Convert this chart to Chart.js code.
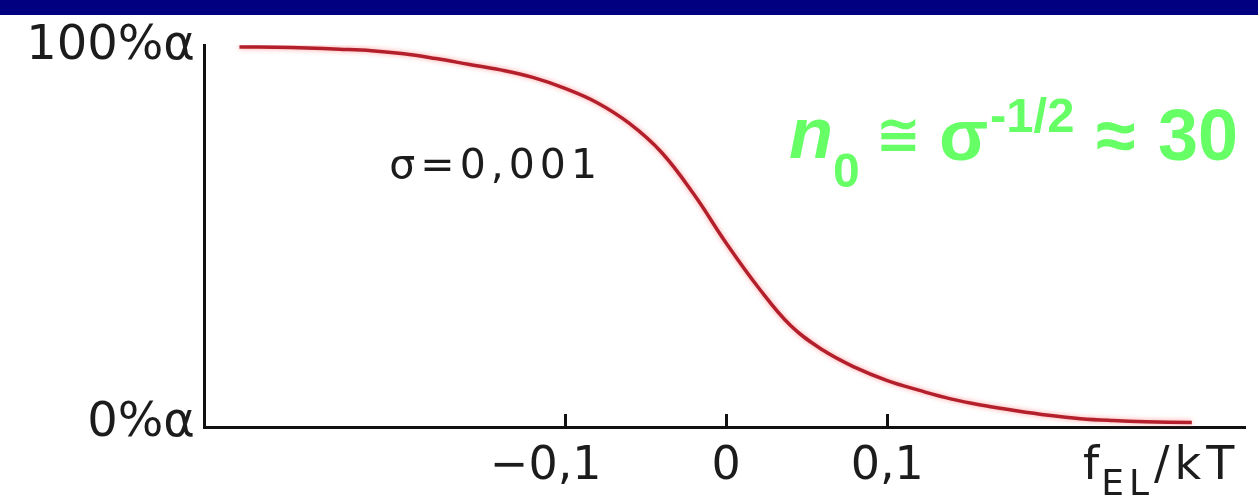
<!DOCTYPE html>
<html><head><meta charset="utf-8">
<script src="https://cdn.jsdelivr.net/npm/chart.js@4.4.1/dist/chart.umd.min.js"></script>
<style>html,body{margin:0;padding:0;background:#fff;overflow:hidden}canvas{display:block}</style>
</head><body>
<canvas id="c" width="1258" height="504"></canvas>
<script>
// ---- data ----
const xValues = [-0.302,-0.28,-0.26,-0.24,-0.22,-0.20,-0.18,-0.16,-0.14,-0.12,-0.10,-0.08,-0.06,-0.04,-0.02,0.00,0.02,0.04,0.06,0.08,0.10,0.12,0.14,0.16,0.18,0.20,0.22,0.24,0.26,0.289];
const alphaPercent = [100,99.9,99.7,99.4,99.0,98.2,96.9,95.4,93.9,91.9,89.0,85.2,79.7,72.0,60.9,48.0,36.2,26.1,19.6,15.0,11.5,8.9,6.6,4.9,3.5,2.3,1.4,0.9,0.6,0.4];
const xTickValues = [-0.1, 0, 0.1];
const xTickLabels = ['\u22120,1', '0', '0,1'];
const yTickValues = [0, 100];
const yTickLabels = ['0%\u03b1', '100%\u03b1'];
const curveLabel = '\u03c3=0,001';
const curveLabelAt = {x: -0.209, y: 68};
const xTitleParts = ['f', 'EL', '/kT'];
const formulaParts = ['n', '0', '\u2245', '\u03c3', '-1/2', '\u2248', '30'];

const TEXT = '#1c1c1c';
const GREEN = '#66ff66';

const overlay = {
  id: 'overlay',
  beforeDraw(chart) {
    const c = chart.ctx;
    c.save();
    c.fillStyle = '#ffffff';
    c.fillRect(0, 0, chart.width, chart.height);
    c.fillStyle = '#000080';
    c.fillRect(0, 0, chart.width, 15);
    c.restore();
  },
  beforeDatasetsDraw(chart) {
    const c = chart.ctx;
    c.save();
    c.shadowColor = 'rgba(255,90,90,0.6)';
    c.shadowBlur = 5;
  },
  afterDatasetsDraw(chart) {
    chart.ctx.restore();
  },
  afterDraw(chart) {
    const c = chart.ctx;
    const xs = chart.scales.x, ys = chart.scales.y;
    const axisY = chart.chartArea.bottom;
    c.save();
    // x tick marks (inside, pointing up)
    c.strokeStyle = '#111';
    c.lineWidth = 3;
    xTickValues.forEach(v => {
      const px = Math.round(xs.getPixelForValue(v)) + 0.5;
      c.beginPath();
      c.moveTo(px, axisY);
      c.lineTo(px, axisY - 13);
      c.stroke();
    });
    // x tick labels
    c.fillStyle = TEXT;
    c.font = '46px "DejaVu Sans"';
    c.textBaseline = 'alphabetic';
    xTickValues.forEach((v, i) => {
      const lab = xTickLabels[i];
      const px = xs.getPixelForValue(v);
      let shift = 0;
      if (lab.startsWith('\u2212')) shift = c.measureText('\u2212').width;
      const w = c.measureText(lab).width;
      c.textAlign = 'left';
      c.fillText(lab, px - (w - shift) / 2 - shift, 479);
    });
    // x axis title f_EL/kT
    c.textAlign = 'left';
    c.letterSpacing = '5px';
    let tx = 1083;
    c.font = '46px "DejaVu Sans"';
    c.fillText(xTitleParts[0], tx, 479);
    tx += c.measureText(xTitleParts[0]).width - 3;
    c.font = '36px "DejaVu Sans"';
    c.fillText(xTitleParts[1], tx, 495);
    tx += c.measureText(xTitleParts[1]).width;
    c.font = '46px "DejaVu Sans"';
    c.fillText(xTitleParts[2], tx, 479);
    // curve label
    c.font = '41px "DejaVu Sans"';
    c.letterSpacing = '5px';
    c.textBaseline = 'middle';
    c.fillText(curveLabel, xs.getPixelForValue(curveLabelAt.x), ys.getPixelForValue(curveLabelAt.y));
    c.letterSpacing = '0px';
    // green formula
    c.fillStyle = GREEN;
    c.textBaseline = 'alphabetic';
    c.font = 'italic bold 72px "Liberation Sans"';
    c.fillText(formulaParts[0], 789, 158);
    c.font = 'bold 48px "Liberation Sans"';
    c.fillText(formulaParts[1], 833, 187);
    c.font = 'bold 54px "DejaVu Sans"';
    c.textAlign = 'center';
    c.fillText(formulaParts[2], 898, 153);
    c.textAlign = 'left';
    c.font = 'bold 72px "Liberation Sans"';
    c.fillText(formulaParts[3], 939, 160);
    c.font = 'bold 49px "Liberation Sans"';
    c.fillText(formulaParts[4], 990, 132);
    c.font = 'bold 72px "Liberation Sans"';
    c.fillText(formulaParts[5], 1096, 160);
    c.fillText(formulaParts[6], 1158, 160);
    c.restore();
  }
};

new Chart(document.getElementById('c'), {
  type: 'line',
  data: {
    datasets: [{
      data: xValues.map((x, i) => ({x, y: alphaPercent[i]})),
      borderColor: '#b3202b',
      borderWidth: 3.5,
      pointRadius: 0,
      fill: false,
      tension: 0.4
    }]
  },
  options: {
    responsive: false,
    animation: false,
    events: [],
    layout: {padding: {left: 0, right: 13, top: 45, bottom: 0}},
    plugins: {legend: {display: false}, tooltip: {enabled: false}},
    scales: {
      x: {
        type: 'linear', min: -0.324, max: 0.322,
        grid: {display: false, drawTicks: false},
        border: {display: true, color: '#111', width: 3},
        ticks: {display: false},
        afterFit: s => { s.height = 77; }
      },
      y: {
        type: 'linear', min: -0.8, max: 100.5,
        grid: {display: false, drawTicks: false},
        border: {display: true, color: '#111', width: 3},
        afterBuildTicks: s => { s.ticks = yTickValues.map(v => ({value: v})); },
        ticks: {
          padding: 9,
          color: TEXT,
          font: {family: 'DejaVu Sans', size: 48},
          callback: v => yTickLabels[yTickValues.indexOf(v)]
        },
        afterFit: s => { s.width = 204; }
      }
    }
  },
  plugins: [overlay]
});
</script>
</body></html>
